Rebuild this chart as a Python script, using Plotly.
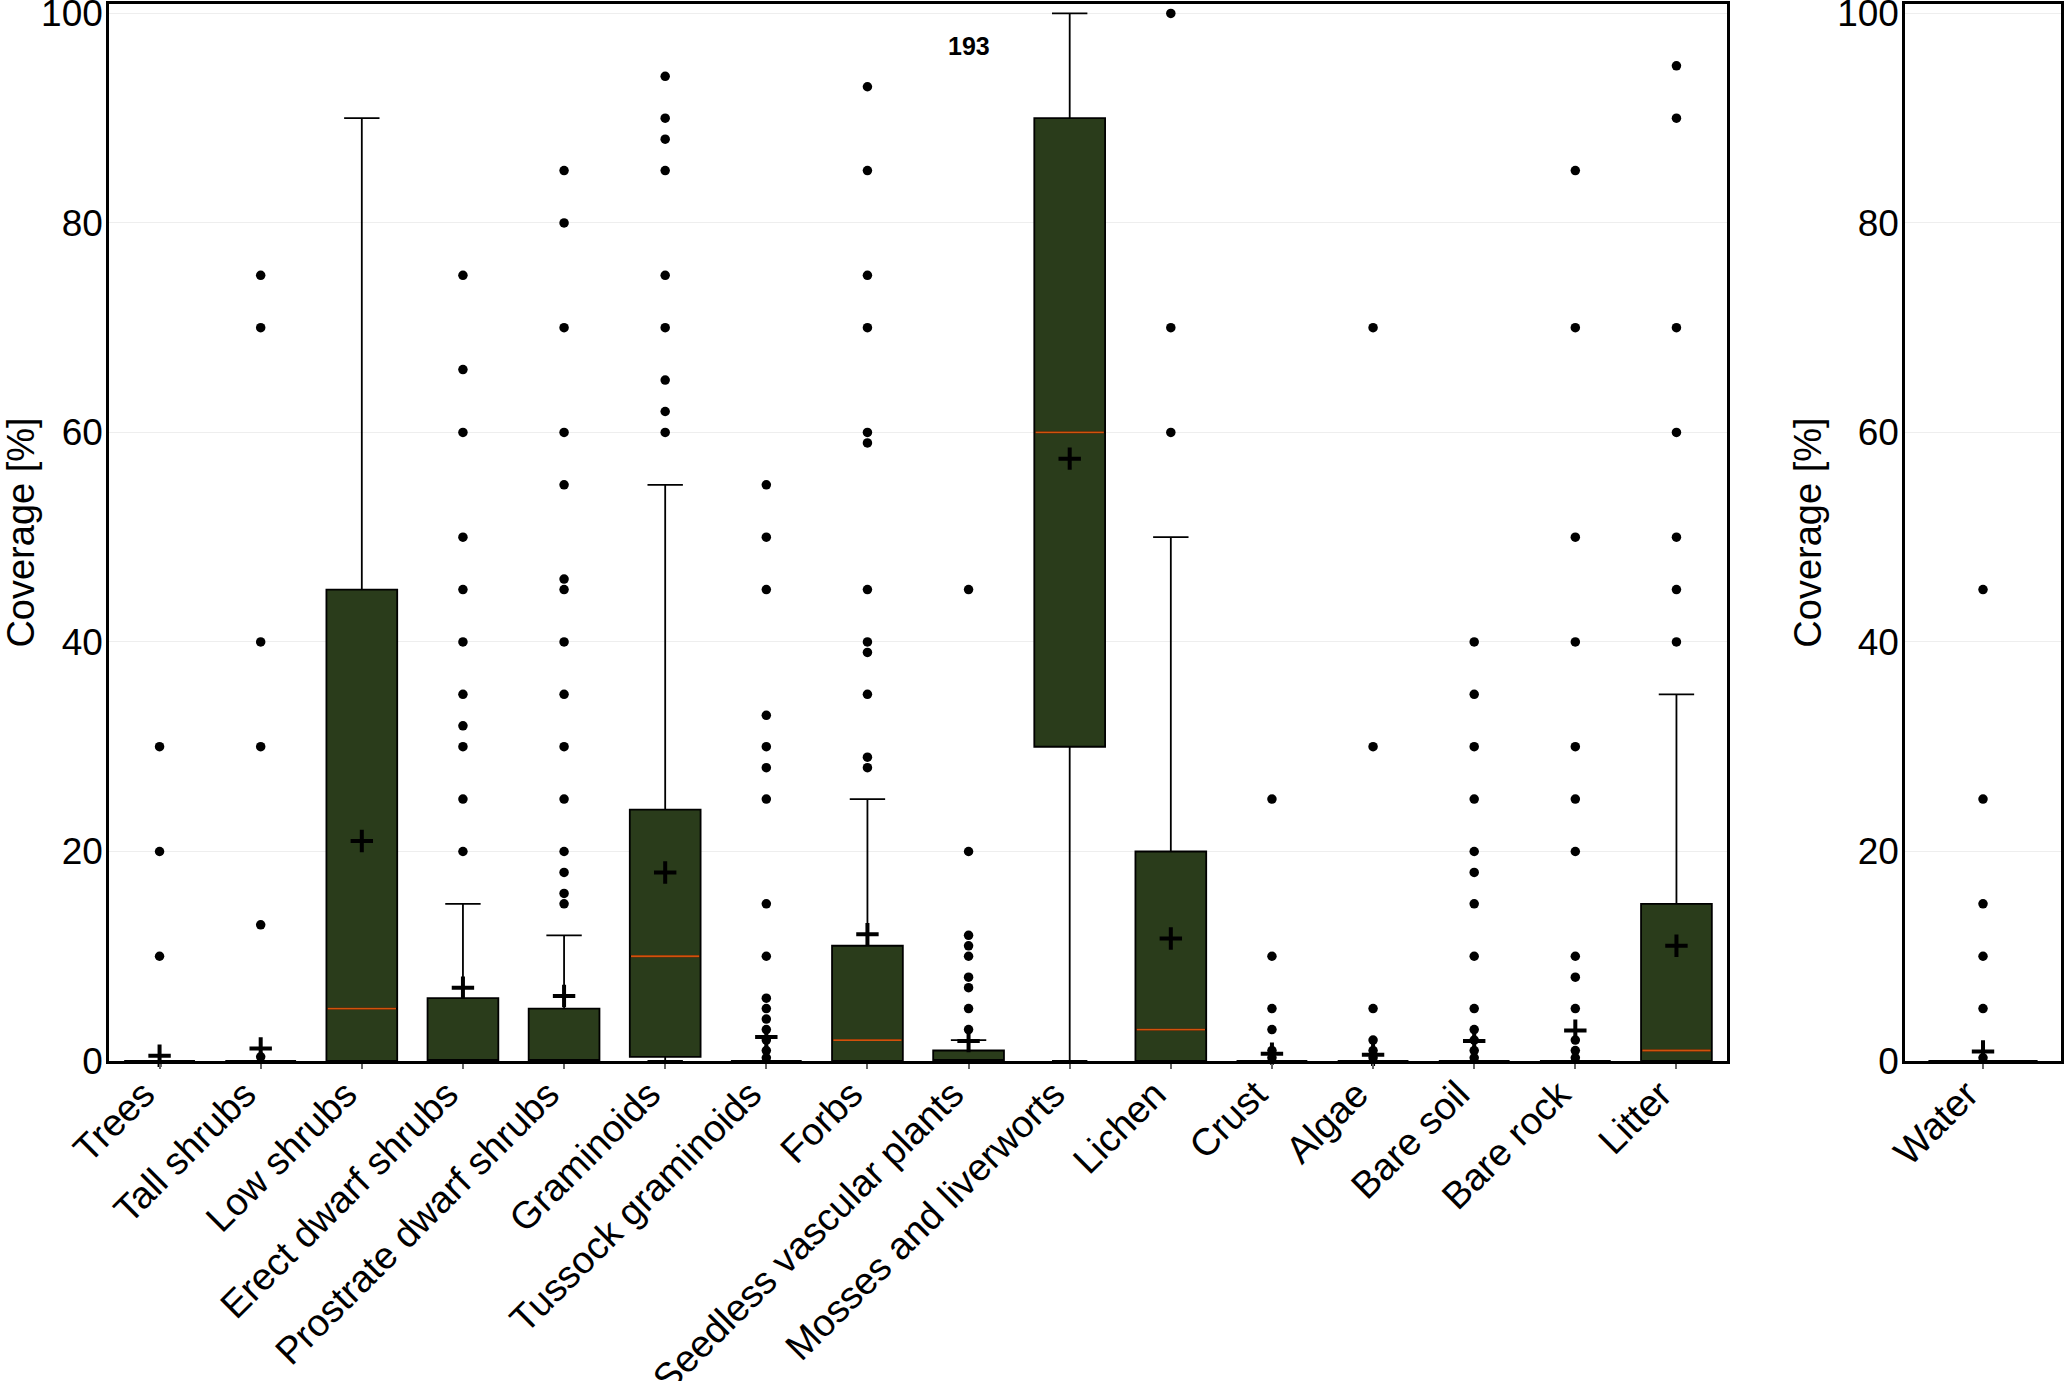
import plotly.graph_objects as go

categories = ["Trees", "Tall shrubs", "Low shrubs", "Erect dwarf shrubs",
              "Prostrate dwarf shrubs", "Graminoids", "Tussock graminoids",
              "Forbs", "Seedless vascular plants", "Mosses and liverworts",
              "Lichen", "Crust", "Algae", "Bare soil", "Bare rock", "Litter"]
q1 = [0, 0, 0, 0, 0, 0.4, 0, 0, 0, 30, 0, 0, 0, 0, 0, 0]
medians = [0, 0, 5, 0, 0, 10, 0, 2, 0, 60, 3, 0, 0, 0, 0, 1]
q3 = [0, 0, 45, 6, 5, 24, 0, 11, 1, 90, 20, 0, 0, 0, 0, 15]
lower_fence = [0, 0, 0, 0, 0, 0, 0, 0, 0, 0, 0, 0, 0, 0, 0, 0]
upper_fence = [0, 0, 90, 15, 12, 55, 0, 25, 2, 100, 50, 0, 0, 0, 0, 35]
means = [0.5, 1.2, 21, 7, 6.2, 18, 2.3, 12.1, 1.9, 57.5, 11.7, 0.7, 0.6, 1.9, 2.9, 11.0]
outliers = [
    [30, 20, 10],
    [75, 70, 40, 30, 13, 0.4],
    [],
    [75, 66, 60, 50, 45, 40, 35, 32, 30, 25, 20],
    [85, 80, 70, 60, 55, 46, 45, 40, 35, 30, 25, 20, 18, 16, 15],
    [94, 90, 88, 85, 75, 70, 65, 62, 60],
    [55, 50, 45, 33, 30, 28, 25, 15, 10, 6, 5, 4, 3, 2, 1, 0.3],
    [93, 85, 75, 70, 60, 59, 45, 40, 39, 35, 29, 28],
    [45, 20, 12, 11, 10, 8, 7, 5, 3],
    [],
    [100, 70, 60],
    [25, 10, 5, 3, 1, 0.3],
    [70, 30, 5, 2, 1, 0.3],
    [40, 35, 30, 25, 20, 18, 15, 10, 5, 3, 2, 1, 0.3],
    [85, 70, 50, 40, 30, 25, 20, 10, 8, 5, 2, 1, 0.3],
    [95, 90, 70, 60, 50, 45, 40],
]

water_category = ["Water"]
water_q1 = [0]
water_median = [0]
water_q3 = [0]
water_lower = [0]
water_upper = [0]
water_mean = [0.9]
water_outliers = [[45, 25, 15, 10, 5, 0.3]]

annotation_text = "193"
annotation_category = 8
annotation_y = 96.9

yticks = [0, 20, 40, 60, 80, 100]

GREEN = "#2a3c1b"
MEDIAN_COLOR = "#d2520c"
FONT = "Liberation Sans, Arial, sans-serif"
BOX_W = 0.7

fig = go.Figure()


def add_panel(cats, bq1, bmed, bq3, blo, bhi, bmean, bout, xa, ya):
    idx = list(range(len(cats)))
    fig.add_trace(go.Box(
        x=idx, q1=bq1, median=bmed, q3=bq3, lowerfence=blo, upperfence=bhi,
        width=BOX_W, whiskerwidth=0.5, fillcolor=GREEN,
        line=dict(color="black", width=1.8), boxpoints=False,
        xaxis=xa, yaxis=ya, showlegend=False, hoverinfo="skip"))
    mx, my = [], []
    for i, (a, m, b) in enumerate(zip(bq1, bmed, bq3)):
        if b > a and m > a:
            mx += [i - BOX_W / 2 + 0.012, i + BOX_W / 2 - 0.012, None]
            my += [m, m, None]
    if mx:
        fig.add_trace(go.Scatter(x=mx, y=my, mode="lines",
                                 line=dict(color=MEDIAN_COLOR, width=1.8),
                                 xaxis=xa, yaxis=ya, showlegend=False,
                                 hoverinfo="skip"))
    ox = [i for i, vals in enumerate(bout) for _ in vals]
    oy = [v for vals in bout for v in vals]
    fig.add_trace(go.Scatter(x=ox, y=oy, mode="markers",
                             marker=dict(color="black", size=9.5, symbol="circle"),
                             xaxis=xa, yaxis=ya, showlegend=False,
                             cliponaxis=False, hoverinfo="skip"))
    fig.add_trace(go.Scatter(x=idx, y=bmean, mode="markers",
                             marker=dict(symbol="cross-thin", size=16,
                                         line=dict(color="black", width=4)),
                             xaxis=xa, yaxis=ya, showlegend=False,
                             cliponaxis=False, hoverinfo="skip"))


add_panel(categories, q1, medians, q3, lower_fence, upper_fence, means,
          outliers, "x", "y")
add_panel(water_category, water_q1, water_median, water_q3, water_lower,
          water_upper, water_mean, water_outliers, "x2", "y2")

fig.add_annotation(x=annotation_category, y=annotation_y, text="<b>%s</b>" % annotation_text,
                   showarrow=False, xref="x", yref="y",
                   font=dict(family=FONT, size=25, color="black"))

common_x = dict(tickangle=-45, showline=True, linecolor="black", linewidth=2.5,
                mirror=True, ticks="outside", ticklen=5, tickcolor="#666666",
                tickwidth=1.5, showgrid=False, zeroline=False,
                tickfont=dict(family=FONT, size=38, color="black"),
                ticklabelstandoff=-12, ticklabelshift=-16,
                ticklabeloverflow="allow", automargin=False)
common_y = dict(range=[0, 100.9], tickvals=yticks, showline=True,
                linecolor="black", linewidth=2.5, mirror=True, ticks="",
                showgrid=True, gridcolor="#eeeeee", gridwidth=1, zeroline=False,
                tickfont=dict(family=FONT, size=37, color="black"),
                ticklabelstandoff=-4, ticklabeloverflow="allow",
                automargin=False)
title_font = dict(family=FONT, size=38, color="black")

fig.update_layout(
    width=2067, height=1381,
    margin=dict(l=109, r=6, t=4, b=320),
    paper_bgcolor="white", plot_bgcolor="white",
    showlegend=False,
    xaxis=dict(domain=[0, 0.8289], range=[-0.5, len(categories) - 0.5],
               tickvals=list(range(len(categories))), ticktext=categories,
               anchor="y", **common_x),
    xaxis2=dict(domain=[0.9201, 1], range=[-0.5, 0.5], tickvals=[0],
                ticktext=water_category, anchor="y2", **common_x),
    yaxis=dict(anchor="x", title=dict(text="Coverage [%]", font=title_font, standoff=20),
               **common_y),
    yaxis2=dict(anchor="x2", title=dict(text="Coverage [%]", font=title_font, standoff=4),
                **common_y),
)

fig.write_html("out.html", config={"displayModeBar": False},
               post_script="document.body.style.margin='0';")
